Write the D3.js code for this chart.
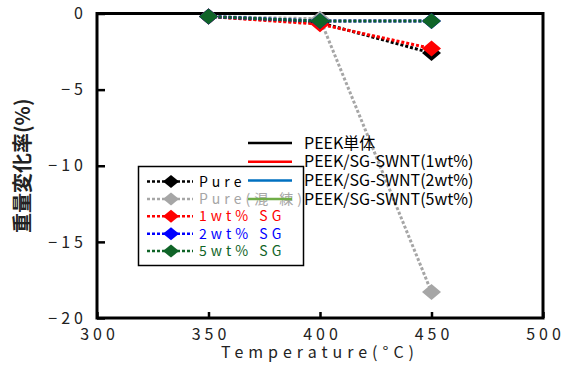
<!DOCTYPE html>
<html>
<head>
<meta charset="utf-8">
<script src="https://cdn.jsdelivr.net/npm/d3@7"></script>
<style>
  body { margin: 0; background: #fff; }
  text { font-family: "Noto Sans CJK JP", "Noto Sans", sans-serif; }
</style>
</head>
<body>
<div id="chart"></div>
<script>
// data
const temps = [350, 400, 450];
const pure = [-0.2, -0.6, -2.6];
const pureKneaded = [-0.2, -0.35, -18.3];
const sg1 = [-0.2, -0.7, -2.3];
const sg2 = [-0.2, -0.5, -0.5];
const sg5 = [-0.2, -0.5, -0.5];
const seriesNames = ['Pure', 'Pure(混 練)', '1wt% SG', '2wt% SG', '5wt% SG'];
const seriesColors = ['#000000', '#a6a6a6', '#ff0000', '#0000ff', '#106428'];
const lineLegendNames = ['PEEK単体', 'PEEK/SG-SWNT(1wt%)', 'PEEK/SG-SWNT(2wt%)', 'PEEK/SG-SWNT(5wt%)'];
const lineLegendColors = ['#000000', '#ff0000', '#0070c0', '#70ad47'];
const xTicks = [300, 350, 400, 450, 500];
const yTicks = [0, -5, -10, -15, -20];

const allSeries = [pure, pureKneaded, sg1, sg2, sg5];

const W = 562, H = 367;
const margin = { top: 13.5, right: 19, bottom: 49, left: 97 };
const width = W - margin.left - margin.right;
const height = H - margin.top - margin.bottom;

const svg = d3.select('#chart').append('svg')
  .attr('width', W).attr('height', H);

const g = svg.append('g')
  .attr('transform', 'translate(' + margin.left + ',' + margin.top + ')');

const x = d3.scaleLinear().domain([300, 500]).range([0, width]);
const y = d3.scaleLinear().domain([-20, 0]).range([height, 0]);

// axes, ticks pointing inward
const xAxis = g.append('g')
  .attr('transform', 'translate(0,' + height + ')')
  .call(d3.axisBottom(x).tickValues(xTicks).tickSizeInner(-6).tickSizeOuter(0).tickPadding(11));
const yAxis = g.append('g')
  .call(d3.axisLeft(y).tickValues(yTicks).tickSizeInner(-8).tickSizeOuter(0).tickPadding(14));

[xAxis, yAxis].forEach(a => {
  a.select('.domain').remove();
  a.selectAll('line').attr('stroke', '#000').attr('stroke-width', 2.5);
  a.selectAll('text')
    .attr('fill', '#222')
    .style('font-size', '16px')
    .style('letter-spacing', '4px');
});
xAxis.selectAll('text').attr('dy', '0.71em').attr('dx', '2px');
yAxis.selectAll('text').attr('dx', '4px');

// frame
g.append('rect')
  .attr('x', 0).attr('y', 0)
  .attr('width', width).attr('height', height)
  .attr('fill', 'none')
  .attr('stroke', '#000')
  .attr('stroke-width', 3);

// axis titles
svg.append('text')
  .attr('x', margin.left + x(400)).attr('y', 358)
  .attr('text-anchor', 'middle')
  .style('font-size', '16px')
  .style('letter-spacing', '5px')
  .attr('fill', '#222')
  .text('Temperature(°C)');

svg.append('text')
  .attr('transform', 'translate(30,' + (margin.top + height / 2) + ')rotate(-90)')
  .attr('text-anchor', 'middle')
  .style('font-size', '20px')
  .style('font-weight', 'bold')
  .attr('fill', '#222')
  .text('重量変化率(%)');

// series
const line = d3.line()
  .x((d, i) => x(temps[i]))
  .y(d => y(d));

const diamond = (cx, cy, rx, ry) =>
  'M' + cx + ',' + (cy - ry) + 'L' + (cx + rx) + ',' + cy + 'L' + cx + ',' + (cy + ry) + 'L' + (cx - rx) + ',' + cy + 'Z';

allSeries.forEach((vals, si) => {
  const sg = g.append('g');
  sg.append('path')
    .attr('d', line(vals))
    .attr('fill', 'none')
    .attr('stroke', seriesColors[si])
    .attr('stroke-width', 3)
    .attr('stroke-dasharray', '3,2');
  sg.selectAll('path.mk')
    .data(vals)
    .enter()
    .append('path')
    .attr('class', 'mk')
    .attr('d', (d, i) => diamond(x(temps[i]), y(d), 9.5, 8))
    .attr('fill', seriesColors[si]);
});

// marker legend box
const lg = svg.append('g');
lg.append('rect')
  .attr('x', 138.5).attr('y', 166.5)
  .attr('width', 165).attr('height', 99)
  .attr('fill', 'none')
  .attr('stroke', '#000')
  .attr('stroke-width', 1.5);

seriesNames.forEach((name, i) => {
  const ry = 181.5 + i * 17.4;
  lg.append('line')
    .attr('x1', 147).attr('x2', 193)
    .attr('y1', ry).attr('y2', ry)
    .attr('stroke', seriesColors[i])
    .attr('stroke-width', 2.5)
    .attr('stroke-dasharray', '3,2');
  lg.append('path')
    .attr('d', diamond(171, ry, 8, 6.5))
    .attr('fill', seriesColors[i]);
  lg.append('text')
    .attr('x', 199).attr('y', ry)
    .attr('dy', '0.36em')
    .attr('fill', seriesColors[i])
    .style('font-size', '14px')
    .style('letter-spacing', '4px')
    .text(name);
});

// line legend
const ll = svg.append('g');
lineLegendNames.forEach((name, i) => {
  const ry = 143 + i * 18.7;
  ll.append('line')
    .attr('x1', 248).attr('x2', 292)
    .attr('y1', ry).attr('y2', ry)
    .attr('stroke', lineLegendColors[i])
    .attr('stroke-width', 2.5);
  ll.append('text')
    .attr('x', 304).attr('y', ry)
    .attr('dy', '0.36em')
    .attr('fill', '#000')
    .style('font-size', '16px')
    .text(name);
});
</script>
</body>
</html>
